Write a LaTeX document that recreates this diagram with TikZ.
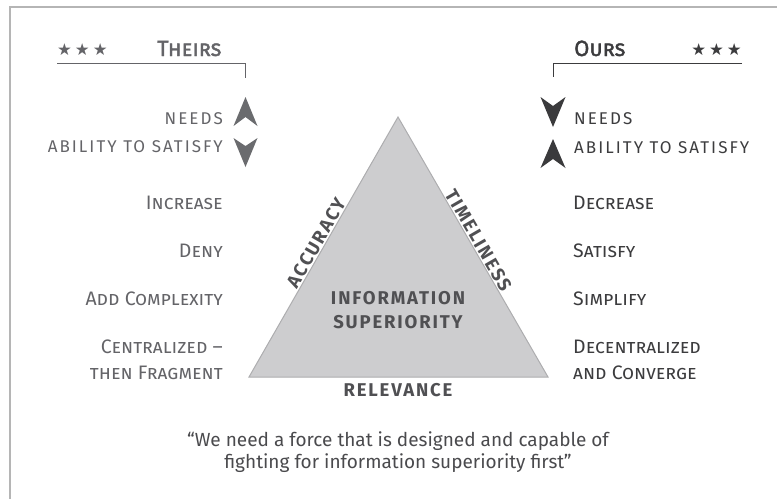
\documentclass[tikz,border=0pt]{standalone}
\usepackage{fontspec}
\setmainfont{Fira Sans}
\newfontfamily\starfont{DejaVu Sans}
\definecolor{framegray}{HTML}{B5B5B5}
\definecolor{leftgray}{HTML}{646468}
\definecolor{rightgray}{HTML}{3C3C3E}
\definecolor{leftarrow}{HTML}{6A6B6E}
\definecolor{rightarrow}{HTML}{3A3A3C}
\definecolor{trifill}{HTML}{CDCDCF}
\definecolor{tridraw}{HTML}{ADADAF}
\definecolor{trilabel}{HTML}{505053}
\definecolor{quotegray}{HTML}{4A4A4D}
\tikzset{
  lefttext/.style={inner sep=0pt, text=leftgray, font=\fontsize{19.5}{22}\selectfont\scshape},
  righttext/.style={inner sep=0pt, text=rightgray, font=\fontsize{19.5}{22}\selectfont\scshape},
  capslabel/.style={inner sep=0pt, font=\fontsize{17}{20}\selectfont\addfontfeature{LetterSpace=12}},
  header/.style={inner sep=0pt, font=\fontsize{22}{24}\selectfont\scshape\addfontfeature{FakeBold=1.8}},
  stars/.style={inner sep=0pt, font=\fontsize{16.5}{17}\starfont},
  trilab/.style={inner sep=1.5pt, text=trilabel, font=\fontsize{18.5}{21}\selectfont\bfseries\addfontfeature{LetterSpace=10}},
  quotetext/.style={inner sep=0pt, text=quotegray, align=center, font=\fontsize{19}{22}\selectfont},
  leftline/.style={draw=leftgray, line width=1pt},
  rightline/.style={draw=rightgray, line width=1pt}
}
\begin{document}
\begin{tikzpicture}[x=1pt,y=-1pt]
\useasboundingbox (0,0) rectangle (777,499);
% frame
\draw[framegray, line width=1.6pt] (777,7) -- (10,7) -- (10,499);

% headers
\node[stars, text=leftgray, anchor=base west] (lstars) at (57,55) {★\hspace{3pt}★\hspace{3pt}★};
\node[header, text=leftgray, anchor=base west] (theirs) at (157,56) {Theirs};
\coordinate (lh1) at (57,63);
\coordinate (lh2) at (245,63);
\coordinate (lh3) at (245,78);
\draw[leftline] (lh1) -- (lh2) -- (lh3);

\node[header, text=rightgray, anchor=base west] (ours) at (574,56) {Ours};
\node[stars, text=rightgray, anchor=base east] (rstars) at (742,55) {★\hspace{3pt}★\hspace{3pt}★};
\coordinate (rh1) at (742,63);
\coordinate (rh2) at (553,63);
\coordinate (rh3) at (553,77);
\draw[rightline] (rh1) -- (rh2) -- (rh3);

% left needs / ability
\node[capslabel, text=leftgray, anchor=base east] (lneeds) at (223,124) {NEEDS};
\node[capslabel, text=leftgray, anchor=base east] (lability) at (223,152) {ABILITY TO SATISFY};
\fill[leftarrow] (245.5,97) -- (257.5,126) -- (245.5,117) -- (233.5,126) -- cycle;
\fill[leftarrow] (245.5,167) -- (257.5,138) -- (245.5,146) -- (233.5,138) -- cycle;

% right needs / ability
\node[capslabel, text=rightgray, anchor=base west] (rneeds) at (574,124) {NEEDS};
\node[capslabel, text=rightgray, anchor=base west] (rability) at (574,153) {ABILITY TO SATISFY};
\fill[rightarrow] (553,127) -- (565.5,97) -- (553,106) -- (540.5,97) -- cycle;
\fill[rightarrow] (553,139) -- (565.5,168) -- (553,159) -- (540.5,168) -- cycle;

% left list
\node[lefttext, anchor=base east] (l1) at (223,209) {Increase};
\node[lefttext, anchor=base east] (l2) at (223,257) {Deny};
\node[lefttext, anchor=base east] (l3) at (223,305) {Add Complexity};
\node[lefttext, anchor=base east] (l4) at (223,353) {Centralized –};
\node[lefttext, anchor=base east] (l5) at (223,379) {then Fragment};

% right list
\node[righttext, anchor=base west] (r1) at (573,209) {Decrease};
\node[righttext, anchor=base west] (r2) at (573,257) {Satisfy};
\node[righttext, anchor=base west] (r3) at (573,305) {Simplify};
\node[righttext, anchor=base west] (r4) at (573,353) {Decentralized};
\node[righttext, anchor=base west] (r5) at (573,379) {and Converge};

% triangle
\coordinate (apex) at (398,117);
\coordinate (bl) at (249,377);
\coordinate (br) at (548,377);
\filldraw[fill=trifill, draw=tridraw, line width=1pt, line join=miter] (bl) -- (apex) -- (br) -- cycle;
\path (bl) -- (apex) node[trilab, midway, sloped, above] (acc) {ACCURACY};
\path (apex) -- (br) node[trilab, pos=0.49, sloped, above] (tim) {TIMELINESS};
\node[trilab, inner sep=0pt, anchor=base] (info) at (398,304) {INFORMATION};
\node[trilab, inner sep=0pt, anchor=base] (sup) at (398,328) {SUPERIORITY};
\node[trilab, inner sep=0pt, anchor=base] (rel) at (398,396) {RELEVANCE};

% quote
\node[quotetext, anchor=base] (q1) at (398,446) {“We need a force that is designed and capable of};
\node[quotetext, anchor=base] (q2) at (398,468) {fighting for information superiority first”};
\end{tikzpicture}
\end{document}
